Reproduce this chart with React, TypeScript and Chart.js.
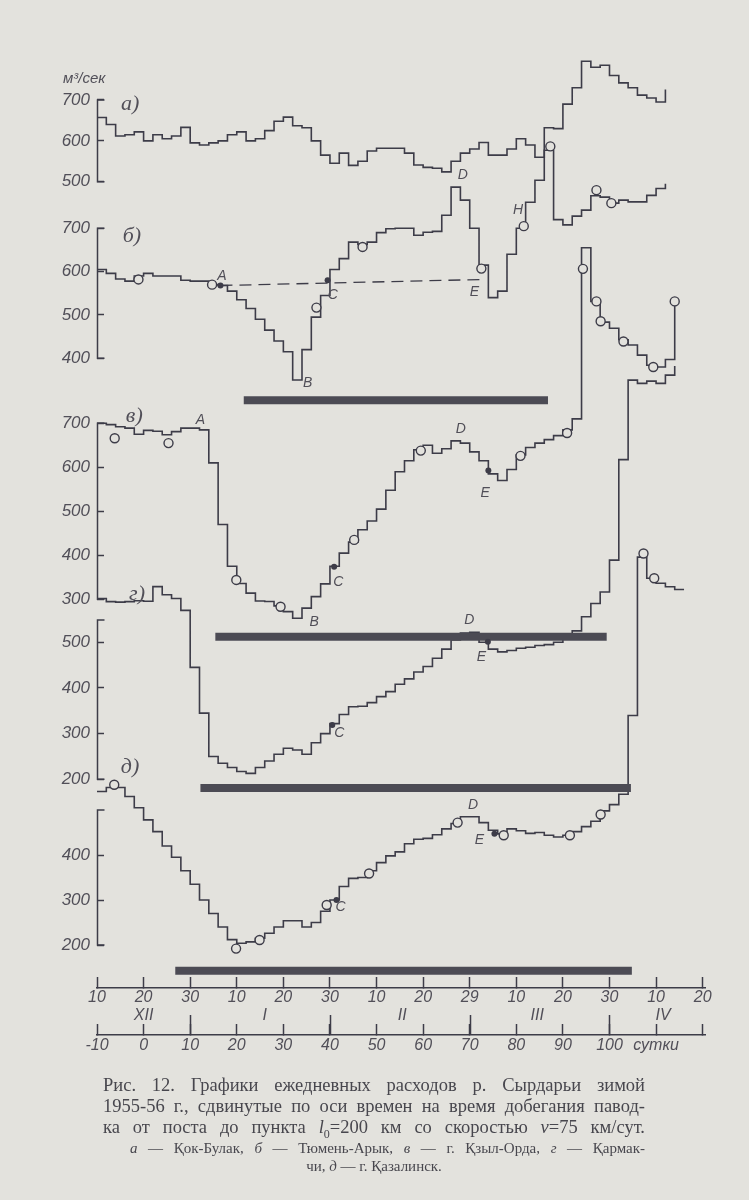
import React, { useEffect, useRef } from 'react';
import { Chart, registerables } from 'chart.js';

Chart.register(...registerables);

// ---------- data (days counted from ~21 Dec 1955, "сутки") ----------
const DAYS = [-10, -8, -6, -4, -2, 0, 2, 4, 6, 8, 10, 12, 14, 16, 18, 20, 22, 24, 26, 28, 30, 32, 34, 36, 38, 40,
  42, 44, 46, 48, 50, 52, 54, 56, 58, 60, 62, 64, 66, 68, 70, 72, 74, 76, 78, 80, 82, 84, 86, 88, 90, 92, 94, 96,
  98, 100, 102, 104, 106, 108, 110, 112, 114, 116];

// а — Кок-Булак, м3/сек
const FLOW_A = [657, 640, 612, 615, 622, 600, 615, 605, 612, 633, 595, 590, 595, 600, 615, 622, 600, 605, 625, 648,
  658, 637, 632, 600, 565, 545, 570, 540, 550, 575, 582, 582, 582, 570, 541, 535, 533, 524, 550, 570, 580, 596, 565,
  565, 580, 605, 590, 560, 632, 630, 690, 730, 795, 780, 785, 760, 742, 730, 712, 705, 695, 726, null, null];
// б — Тюмень-Арык
const FLOW_B = [605, 596, 583, 578, 590, 596, 590, 590, 590, 580, 578, 578, 570, 568, 555, 535, 515, 490, 465, 440,
  415, 350, 420, 495, 545, 605, 630, 668, 663, 668, 690, 699, 700, 700, 684, 691, 693, 730, 795, 765, 700, 615, 540,
  555, 640, 700, 760, 811, 880, 720, 708, 728, 742, 775, 772, 758, 765, 761, 761, 776, 792, 803, null, null];
// в — г. Кзыл-Орда
const FLOW_V = [700, 697, 692, 689, 675, 684, 682, 674, 681, 689, 689, 685, 610, 470, 375, 336, 314, 296, 295, 285,
  272, 257, 280, 306, 335, 375, 405, 430, 458, 478, 505, 548, 590, 615, 640, 650, 632, 642, 660, 655, 635, 615, 585,
  570, 595, 628, 645, 655, 663, 672, 685, 710, 1099, 977, 930, 916, 890, 878, 855, 832, 828, 845, 977, null];
// г — Кармакчи
const FLOW_G = [596, 589, 588, 589, 591, 590, 622, 604, 596, 570, 445, 345, 250, 235, 226, 217, 213, 226, 240, 255,
  268, 264, 255, 280, 300, 322, 342, 359, 360, 368, 381, 392, 408, 420, 435, 447, 465, 485, 505, 520, 522, 500, 485,
  479, 482, 487, 489, 493, 495, 500, 508, 525, 556, 585, 610, 680, 900, 1074, 1067, 1072, 1067, 1085, 1105, null];
// д — г. Казалинск
const FLOW_D = [541, 550, 550, 530, 505, 478, 452, 420, 395, 365, 335, 300, 270, 240, 212, 204, 207, 215, 226, 240,
  254, 254, 240, 250, 275, 300, 330, 348, 350, 365, 383, 398, 407, 425, 435, 437, 445, 458, 470, 485, 485, 472, 455,
  447, 458, 454, 448, 450, 444, 440, 444, 452, 463, 475, 498, 512, 535, 710, 1062, 1015, 1004, 996, 990, 990];

// dashed line А–Е on б
const DASHED_B = [[16.5, 568], [73.2, 582]];

// ice cover periods: start day, end day, drawing level in the panel's units
const ICE_START = [21.5, 15.4, 12.2, 6.8];
const ICE_END = [86.8, 99.4, 104.6, 104.8];
const ICE_LEVEL = [303, 215, 181, 143];

// marked points [day, value]
const OPEN_B = [[-1.1, 582], [14.7, 570], [37.1, 517], [47, 657], [72.5, 607], [81.6, 705], [87.3, 889], [97.2, 788], [100.4, 758]];
const DOTS_B = [[16.5, 568], [39.5, 580]];
const OPEN_V = [[-6.2, 666], [5.35, 655], [19.9, 344], [29.4, 283], [45.2, 435], [59.5, 638], [80.9, 626], [90.9, 678],
  [94.3, 1051], [97.2, 977], [98.1, 932], [103, 886], [109.4, 828], [114, 977]];
const DOTS_V = [[40.9, 374], [74, 593]];
const DOTS_G = [[40.5, 319], [73.9, 501]];
const OPEN_D = [[-6.3, 556], [19.85, 192], [24.9, 211], [39.3, 289], [48.4, 359], [67.4, 472], [77.3, 444], [91.5, 444],
  [98.1, 490], [107.3, 1070], [109.6, 1015]];
const DOTS_D = [[41.4, 300], [75.3, 447]];

// letters at points [letter, day, value]
const LETTERS_B = [['A', 16.8, 590], ['B', 35.2, 343], ['C', 40.6, 546], ['D', 68.5, 823], ['E', 71, 552], ['H', 80.4, 742]];
const LETTERS_V = [['A', 12.2, 708], ['B', 36.6, 249], ['C', 41.8, 338], ['D', 68.1, 686], ['E', 73.3, 541]];
const LETTERS_G = [['D', 69.9, 549], ['E', 72.5, 468], ['C', 42, 301]];
const LETTERS_D = [['D', 70.7, 511], ['E', 72.1, 433], ['C', 42.3, 285]];

// panel names [text, day, value]
const PANEL_NAMES = ['а)', 'б)', 'в)', 'г)', 'д)'];
const PANEL_NAME_DAYS = [-2.9, -2.5, -2, -1.4, -2.9];
const PANEL_NAME_VALUES = [690, 682, 717, 606, 596];

// axes
const TICKS_A = [500, 600, 700];
const TICKS_B = [400, 500, 600, 700];
const TICKS_V = [300, 400, 500, 600, 700];
const TICKS_G = [200, 300, 400, 500];
const TICKS_D = [200, 300, 400];
const SPAN_A = [500, 700];
const SPAN_B = [400, 700];
const SPAN_V = [300, 700];
const SPAN_G = [200, 549];
const SPAN_D = [200, 500];

const TICK_DAYS = [-10, 0, 10, 20, 30, 40, 50, 60, 70, 80, 90, 100, 110, 120];
const DATE_LABELS = ['10', '20', '30', '10', '20', '30', '10', '20', '29', '10', '20', '30', '10', '20'];
const DAY_LABELS = ['-10', '0', '10', '20', '30', '40', '50', '60', '70', '80', '90', '100', 'сутки', ''];
const ROMAN_DAYS = [0, 26, 55.5, 84.5, 111.5];
const ROMAN_LABELS = ['XII', 'I', 'II', 'III', 'IV'];
const TALL_TICK_DAYS = [10, 40, 70, 100];

// ---------- layout / style ----------
const PAPER = '#e3e2dd';
const INK = '#3d3c48';
const BAR = '#4c4b54';
const TEXT = '#514f58';
const AREA_TOP = 40;
const AREA_BOTTOM = 988;
const X_MIN = -10;
const X_MAX = 120.5;
const PAD_LEFT = 97;
const PAD_RIGHT = 44;
const PANEL_IDS = ['yA', 'yB', 'yV', 'yG', 'yD'];
const PANEL_TICKS = [TICKS_A, TICKS_B, TICKS_V, TICKS_G, TICKS_D];
const PANEL_SPANS = [SPAN_A, SPAN_B, SPAN_V, SPAN_G, SPAN_D];
// pixel rows where two reference values of each panel axis sit
const PANEL_CAL = [
  { lo: 500, loY: 181.7, hi: 700, hiY: 100 },
  { lo: 400, loY: 358.3, hi: 700, hiY: 228.3 },
  { lo: 300, loY: 599.3, hi: 700, hiY: 423.3 },
  { lo: 200, loY: 779.3, hi: 500, hiY: 642.3 },
  { lo: 200, loY: 945, hi: 400, hiY: 855 },
];
const SANS = "'Liberation Sans', Arial, sans-serif";
const SERIF = "'Liberation Serif', 'DejaVu Serif', serif";

const toPoints = (vals: any[]) =>
  DAYS.map((d, i) => ({ x: d, y: vals[i] })).filter((p) => p.y !== null && p.y !== undefined);
const pairs = (arr: number[][]) => arr.map(([x, y]) => ({ x, y }));

const annotate = {
  id: 'annotate',
  afterLayout(chart: any) {
    // all panel axes share the same left edge of the plot
    PANEL_IDS.forEach((id) => {
      const s = chart.scales[id];
      s.left = chart.chartArea.left - 90;
      s.right = chart.chartArea.left;
      s.width = 90;
    });
  },
  afterDraw(chart: any) {
    const { ctx, chartArea } = chart;
    const xs = chart.scales.x;
    ctx.save();
    ctx.strokeStyle = INK;
    ctx.lineWidth = 1.5;
    PANEL_IDS.forEach((id, i) => {
      const s = chart.scales[id];
      const left = Math.round(chartArea.left) + 0.5;
      const yLo = s.getPixelForValue(PANEL_SPANS[i][0]);
      const yHi = s.getPixelForValue(PANEL_SPANS[i][1]);
      ctx.beginPath();
      ctx.moveTo(left + 7, yHi);
      ctx.lineTo(left, yHi);
      ctx.lineTo(left, yLo);
      ctx.lineTo(left + 7, yLo);
      ctx.stroke();
    });
    const xd = chart.scales.xDays;
    ctx.beginPath();
    TALL_TICK_DAYS.forEach((d) => {
      const px = Math.round(xd.getPixelForValue(d)) + 0.5;
      ctx.moveTo(px, xd.top);
      ctx.lineTo(px, xd.top - 20);
    });
    ctx.stroke();

    ctx.fillStyle = TEXT;
    ctx.textAlign = 'center';
    ctx.textBaseline = 'middle';
    ctx.font = `italic 22px ${SERIF}`;
    PANEL_NAMES.forEach((t, i) => {
      ctx.fillText(t, xs.getPixelForValue(PANEL_NAME_DAYS[i]), chart.scales[PANEL_IDS[i]].getPixelForValue(PANEL_NAME_VALUES[i]));
    });
    ctx.font = `italic 14px ${SANS}`;
    const groups: [string, any[]][] = [['yB', LETTERS_B], ['yV', LETTERS_V], ['yG', LETTERS_G], ['yD', LETTERS_D]];
    groups.forEach(([id, list]) => {
      list.forEach(([t, d, v]: any) => {
        ctx.fillText(t, xs.getPixelForValue(d), chart.scales[id].getPixelForValue(v));
      });
    });
    ctx.restore();
  },
};

function yScale(i: number) {
  const c = PANEL_CAL[i];
  const k = (c.hi - c.lo) / (c.loY - c.hiY);
  return {
    type: 'linear',
    position: 'left',
    min: c.lo - (AREA_BOTTOM - c.loY) * k,
    max: c.lo + (c.loY - AREA_TOP) * k,
    afterBuildTicks: (s: any) => {
      s.ticks = PANEL_TICKS[i].map((v) => ({ value: v }));
    },
    afterFit: (s: any) => {
      s.width = 0;
    },
    border: { display: false },
    grid: { drawOnChartArea: false, drawTicks: true, tickLength: -7, tickColor: INK, tickWidth: 1.5 },
    ticks: { padding: 14, autoSkip: false, color: TEXT, font: { family: SANS, size: 17, style: 'italic' } },
  };
}

export default function App() {
  const ref = useRef<HTMLCanvasElement>(null);

  useEffect(() => {
    if (!ref.current) return;
    const flows = [FLOW_A, FLOW_B, FLOW_V, FLOW_G, FLOW_D];
    const datasets: any[] = [];
    flows.forEach((f, i) => {
      datasets.push({
        data: toPoints(f),
        yAxisID: PANEL_IDS[i],
        stepped: true,
        borderColor: INK,
        borderWidth: 1.6,
        pointRadius: 0,
        fill: false,
        clip: false,
        order: 2,
      });
    });
    datasets.push({
      data: pairs(DASHED_B),
      yAxisID: 'yB',
      borderColor: INK,
      borderWidth: 1.3,
      borderDash: [12, 7],
      pointRadius: 0,
      fill: false,
      order: 2,
    });
    const iceAxes = ['yB', 'yV', 'yG', 'yD'];
    ICE_START.forEach((s, i) => {
      datasets.push({
        data: [{ x: s, y: ICE_LEVEL[i] }, { x: ICE_END[i], y: ICE_LEVEL[i] }],
        yAxisID: iceAxes[i],
        borderColor: BAR,
        borderWidth: 8,
        borderCapStyle: 'butt',
        pointRadius: 0,
        fill: false,
        order: 1,
      });
    });
    const open: [string, number[][]][] = [['yB', OPEN_B], ['yV', OPEN_V], ['yD', OPEN_D]];
    open.forEach(([id, list]) => {
      datasets.push({
        data: pairs(list),
        yAxisID: id,
        showLine: false,
        pointRadius: 4.5,
        pointBorderWidth: 1.4,
        pointBackgroundColor: PAPER,
        pointBorderColor: INK,
        order: 0,
      });
    });
    const dots: [string, number[][]][] = [['yB', DOTS_B], ['yV', DOTS_V], ['yG', DOTS_G], ['yD', DOTS_D]];
    dots.forEach(([id, list]) => {
      datasets.push({
        data: pairs(list),
        yAxisID: id,
        showLine: false,
        pointRadius: 3,
        pointBorderWidth: 0,
        pointBackgroundColor: INK,
        order: 0,
      });
    });

    const scales: any = {
      x: {
        type: 'linear',
        position: 'bottom',
        min: X_MIN,
        max: X_MAX,
        afterBuildTicks: (s: any) => {
          s.ticks = TICK_DAYS.map((v) => ({ value: v }));
        },
        afterFit: (s: any) => {
          s.height = 18;
        },
        border: { display: true, color: INK, width: 1.5 },
        grid: { drawOnChartArea: false, tickLength: -11, tickColor: INK, tickWidth: 1.5 },
        ticks: {
          padding: 11,
          autoSkip: false,
          maxRotation: 0,
          minRotation: 0,
          color: TEXT,
          font: { family: SANS, size: 16, style: 'italic' },
          callback: (_v: any, i: number) => DATE_LABELS[i],
        },
      },
      xRoman: {
        type: 'linear',
        position: 'bottom',
        weight: 1,
        min: X_MIN,
        max: X_MAX,
        afterBuildTicks: (s: any) => {
          s.ticks = ROMAN_DAYS.map((v) => ({ value: v }));
        },
        afterFit: (s: any) => {
          s.height = 29;
        },
        border: { display: false },
        grid: { display: false, drawTicks: false },
        ticks: {
          padding: 0,
          autoSkip: false,
          maxRotation: 0,
          minRotation: 0,
          color: TEXT,
          font: { family: SANS, size: 16, style: 'italic' },
          callback: (_v: any, i: number) => ROMAN_LABELS[i],
        },
      },
      xDays: {
        type: 'linear',
        position: 'bottom',
        weight: 2,
        min: X_MIN,
        max: X_MAX,
        afterBuildTicks: (s: any) => {
          s.ticks = TICK_DAYS.map((v) => ({ value: v }));
        },
        afterFit: (s: any) => {
          s.height = 25;
        },
        border: { display: true, color: INK, width: 1.5 },
        grid: { drawOnChartArea: false, tickLength: -11, tickColor: INK, tickWidth: 1.5 },
        ticks: {
          padding: 12,
          autoSkip: false,
          maxRotation: 0,
          minRotation: 0,
          color: TEXT,
          font: { family: SANS, size: 16, style: 'italic' },
          callback: (_v: any, i: number) => DAY_LABELS[i],
        },
      },
    };
    PANEL_IDS.forEach((id, i) => {
      scales[id] = yScale(i);
    });

    const chart = new Chart(ref.current, {
      type: 'line',
      data: { datasets },
      options: {
        animation: false,
        responsive: false,
        devicePixelRatio: 1,
        events: [],
        layout: { padding: { left: PAD_LEFT, right: PAD_RIGHT, top: AREA_TOP, bottom: 1200 - AREA_BOTTOM - 72 } },
        plugins: { legend: { display: false }, tooltip: { enabled: false }, title: { display: false } },
        scales,
      },
      plugins: [annotate],
    } as any);
    return () => chart.destroy();
  }, []);

  return (
    <div style={{ position: 'absolute', left: 0, top: 0, width: 749, height: 1200, background: PAPER, overflow: 'hidden' }}>
      <canvas ref={ref} width={749} height={1200} style={{ display: 'block', position: 'absolute', left: 0, top: 0 }} />
      <div
        style={{
          position: 'absolute', left: 63, top: 69, fontFamily: SANS, fontStyle: 'italic', fontSize: 15, color: TEXT,
        }}
      >
        м³/сек
      </div>
      <div
        style={{
          position: 'absolute', left: 103, top: 1075, width: 542, fontFamily: SERIF, fontSize: 18.5, lineHeight: '21px', color: '#48474e',
        }}
      >
        <div style={{ textAlign: 'justify', textAlignLast: 'justify' }}>Рис. 12. Графики ежедневных расходов р. Сырдарьи зимой</div>
        <div style={{ textAlign: 'justify', textAlignLast: 'justify' }}>1955-56 г., сдвинутые по оси времен на время добегания павод-</div>
        <div style={{ textAlign: 'justify', textAlignLast: 'justify' }}>
          ка от поста до пункта <i>l</i>
          <sub style={{ fontSize: 12, lineHeight: 0 }}>0</sub>=200 км со скоростью <i>v</i>=75 км/сут.
        </div>
        <div style={{ fontSize: 15, lineHeight: '20px', marginLeft: 27, textAlign: 'justify', textAlignLast: 'justify' }}>
          <i>а</i> — Қок-Булак, <i>б</i> — Тюмень-Арык, <i>в</i> — г. Қзыл-Орда, <i>г</i> — Қармак-
        </div>
        <div style={{ fontSize: 15, lineHeight: '16px', textAlign: 'center', paddingLeft: 0 }}>
          чи, <i>д</i> — г. Қазалинск.
        </div>
      </div>
    </div>
  );
}
